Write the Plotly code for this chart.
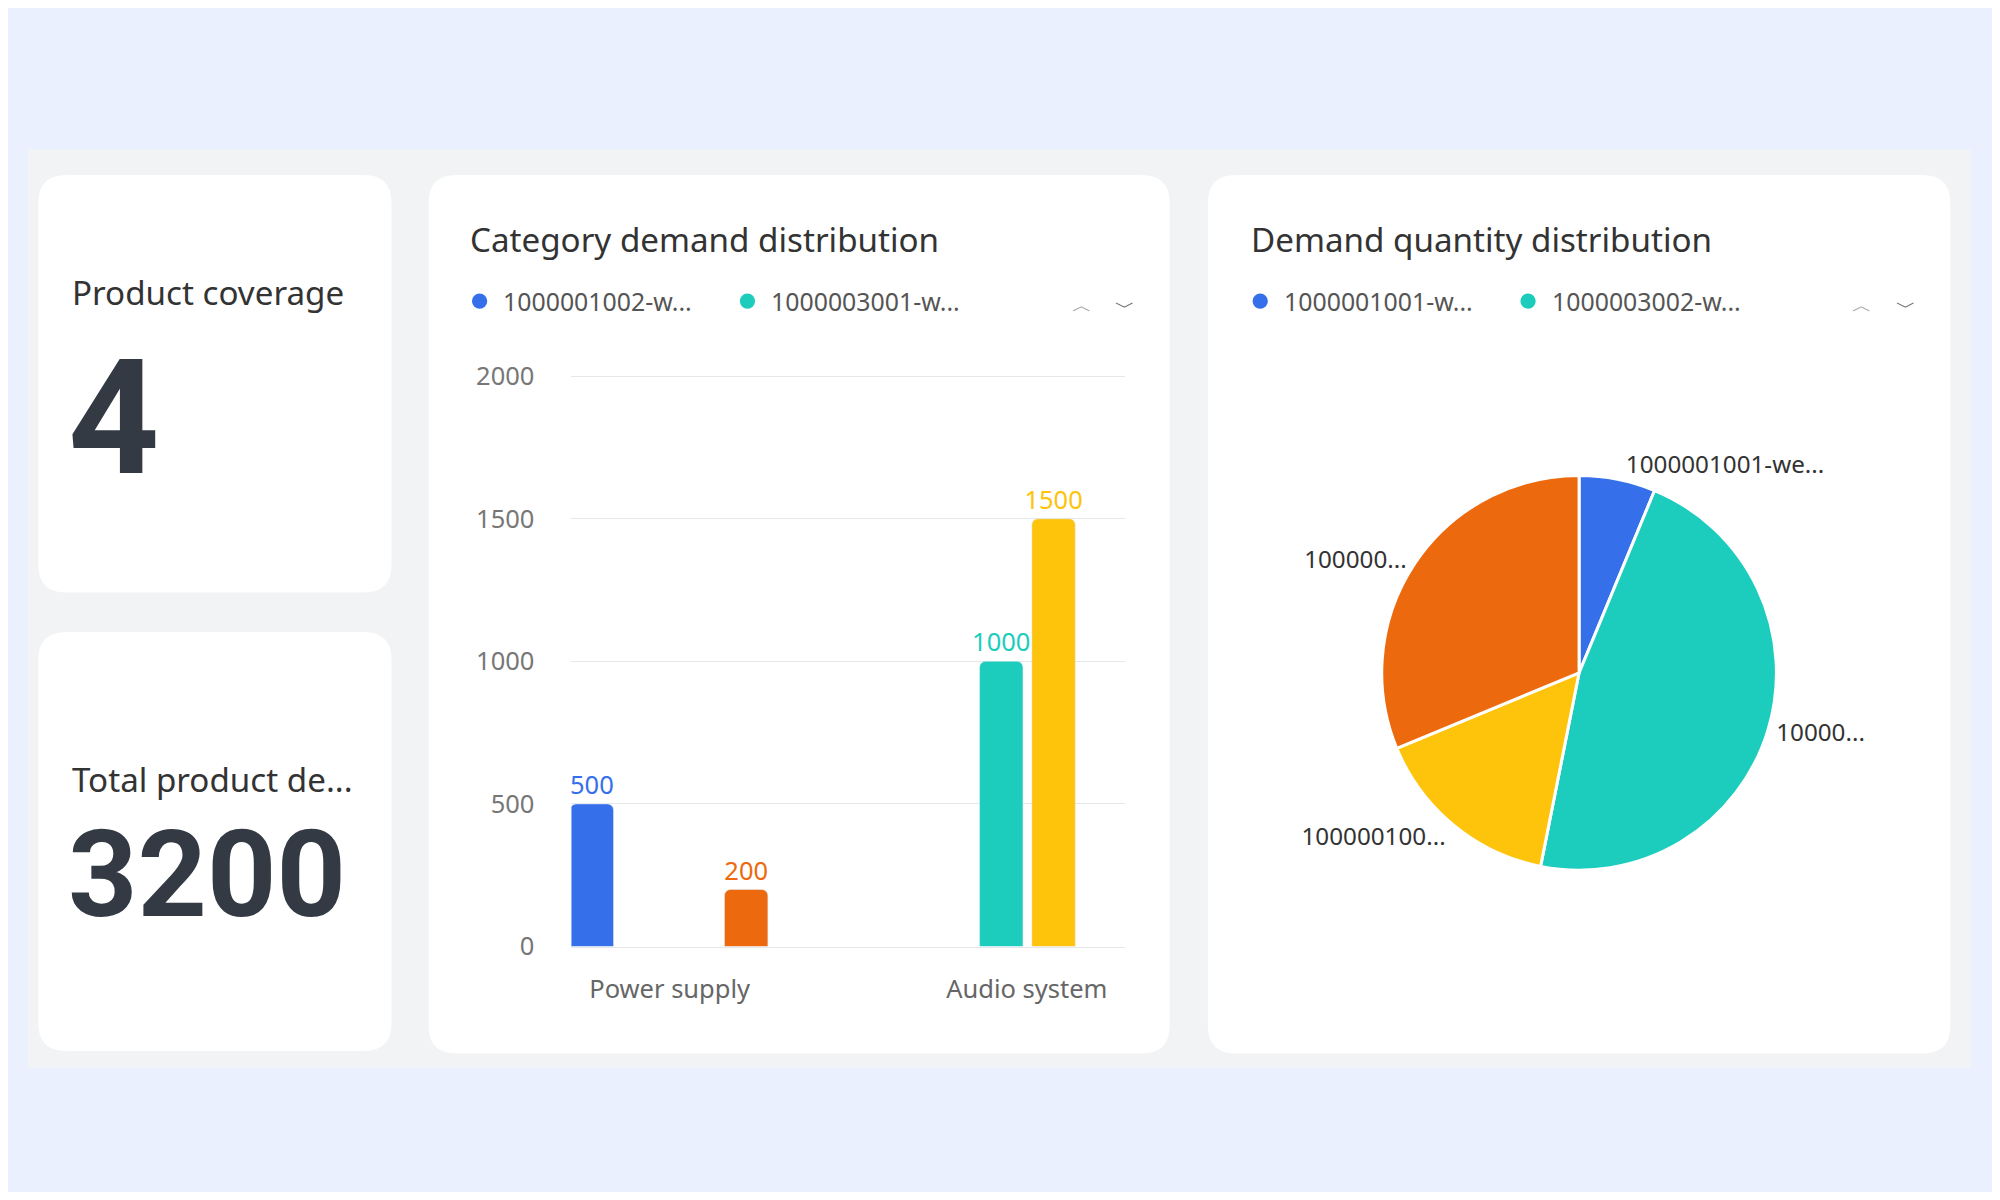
import plotly.graph_objects as go

W0, H0 = 1568, 941
S = 2000 / W0
FW, FH = 1984, 1184
def px(x): return (x * S - 8) / FW
def py(y):
    y = (y - 14.4) / 0.971 + 10 * (825 - y) / 688
    return 1 - (y * S - 8) / FH
def fs(v): return v * S

# data
bar_series = ["1000001002-w...", "1000001003-w...", "1000003001-w...", "1000003002-w..."]
bar_cats = ["Power supply", "Power supply", "Audio system", "Audio system"]
bar_vals = [500, 200, 1000, 1500]
bar_colors = ["#3570EA", "#EC6A0D", "#1CCDBE", "#FEC30B"]
cat_labels = ["Power supply", "Audio system"]
y_ticks = [0, 500, 1000, 1500, 2000]

pie_names = ["1000001001-we...", "10000...", "100000100...", "100000..."]
pie_vals = [200, 1500, 500, 1000]
pie_colors = ["#3570EA", "#1CCDBE", "#FEC30B", "#EC6A0D"]

kpi_titles = ["Product coverage", "Total product de..."]
kpi_vals = ["4", "3200"]

fig = go.Figure()
unit = 280
cat_pos = {c: i for i, c in enumerate(cat_labels)}
centers_px = [-61, 60, -20, 21]
bw = 34 / unit
for i in range(4):
    fig.add_trace(go.Bar(
        x=[cat_pos[bar_cats[i]]], y=[bar_vals[i]], name=bar_series[i],
        marker=dict(color=bar_colors[i], cornerradius=6), width=bw,
        offset=centers_px[i] / unit - bw / 2,
        text=[str(bar_vals[i])], textposition="outside", cliponaxis=False, constraintext="none",
        textfont=dict(color=bar_colors[i], size=fs(20)), showlegend=False))

fig.add_trace(go.Pie(
    values=pie_vals, text=pie_names, textinfo="text", marker=dict(colors=pie_colors, line=dict(color="white", width=3)),
    sort=False, direction="clockwise", rotation=0, textposition="outside",
    outsidetextfont=dict(size=fs(19), color="#333"), hoverinfo="skip",
    domain=dict(x=[px(1238 - 155), px(1238 + 155)], y=[py(528 + 155), py(528 - 155)]), showlegend=False))

ytop = 743 - (743 - 295) * 2050 / 2000
fig.update_layout(
    width=FW, height=FH, margin=dict(l=0, r=0, t=0, b=0),
    paper_bgcolor="#EAF0FD", plot_bgcolor="rgba(0,0,0,0)",
    font=dict(family="Noto Sans", color="#333"), barmode="overlay",
    xaxis=dict(domain=[px(448), px(882)], range=[(448 - 525) / unit, (882 - 525) / unit],
               tickvals=[0, 1], ticktext=cat_labels, showgrid=False, zeroline=False,
               showline=True, linecolor="#E5E7EB", ticks="", tickfont=dict(size=fs(20), color="#666"), ticklabelstandoff=20),
    yaxis=dict(domain=[py(743), py(ytop)], range=[0, 2050], tickvals=y_ticks, gridcolor="#E5E7EB",
               zeroline=False, tickfont=dict(size=fs(20), color="#777"), ticklabelstandoff=36),
)

shapes = [dict(type="rect", xref="paper", yref="paper", x0=px(22), x1=px(1545), y0=py(838), y1=py(117),
               fillcolor="#F2F3F5", line=dict(width=0), layer="below")]
def card(x0, y0, x1, y1, r=22):
    shapes.append(dict(type="path", xref="paper", yref="paper", layer="below", fillcolor="white", line=dict(width=0),
        path=f"M {px(x0+r)} {py(y0)} L {px(x1-r)} {py(y0)} Q {px(x1)} {py(y0)} {px(x1)} {py(y0+r)} "
             f"L {px(x1)} {py(y1-r)} Q {px(x1)} {py(y1)} {px(x1-r)} {py(y1)} L {px(x0+r)} {py(y1)} "
             f"Q {px(x0)} {py(y1)} {px(x0)} {py(y1-r)} L {px(x0)} {py(y0+r)} Q {px(x0)} {py(y0)} {px(x0+r)} {py(y0)} Z"))
card(30, 137, 307, 465); card(30, 496, 307, 825); card(336, 137, 917, 827); card(947, 137, 1529, 827)

ann = []
def text(x, y, t, size, color="#333", bold=False, family="Noto Sans", anchor="left"):
    ann.append(dict(xref="paper", yref="paper", x=px(x), y=py(y), text=f"<b>{t}</b>" if bold else t, showarrow=False,
                    xanchor=anchor, yanchor="middle", font=dict(size=fs(size), color=color, family=family)))
text(55, 229, kpi_titles[0], 26)
text(52, 328, kpi_vals[0], 125, "#333A44", True, "Roboto")
text(55, 612, kpi_titles[1], 26)
text(52, 687, kpi_vals[1], 95, "#333A44", True, "Roboto")
text(367, 188, "Category demand distribution", 26)
text(979, 188, "Demand quantity distribution", 26)
for (dx, label, col) in [(376, bar_series[0], bar_colors[0]), (586, bar_series[2], bar_colors[2]),
                         (988, "1000001001-w...", pie_colors[0]), (1198, "1000003002-w...", pie_colors[1])]:
    shapes.append(dict(type="circle", xref="paper", yref="paper", x0=px(dx - 6), x1=px(dx + 6), y0=py(242), y1=py(230),
                       fillcolor=col, line=dict(width=0)))
    text(dx + 17, 236, label, 19.5, "#555")
for cx in [848, 1460]:
    text(cx, 238, "︿", 16, "#aaa", anchor="center")
    text(cx + 34, 240, "﹀", 16, "#666", anchor="center")
fig.update_layout(shapes=shapes, annotations=ann)
fig.write_html("out.html")
